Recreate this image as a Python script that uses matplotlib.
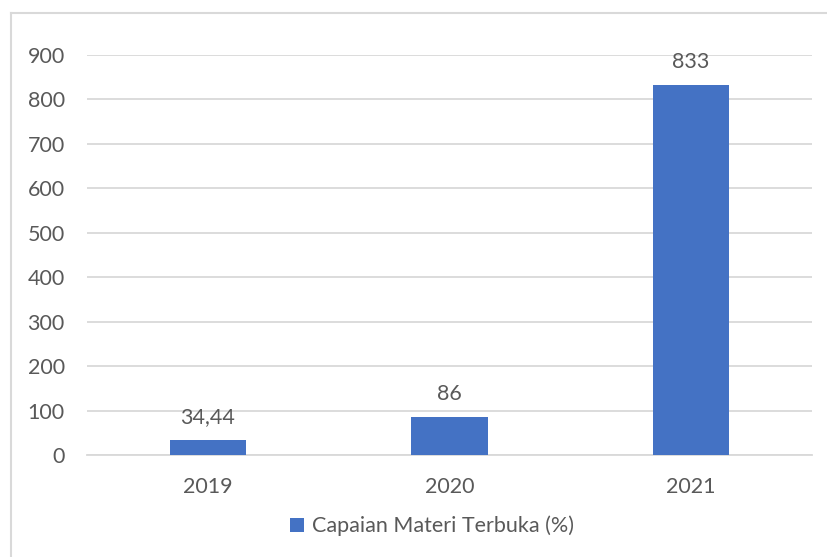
import matplotlib
matplotlib.use("Agg")
import matplotlib.pyplot as plt
from matplotlib.lines import Line2D
from matplotlib.patches import Patch

categories = ["2019", "2020", "2021"]
values = [34.44, 86, 833]
value_labels = ["34,44", "86", "833"]
yticks = [0, 100, 200, 300, 400, 500, 600, 700, 800, 900]
series_name = "Capaian Materi Terbuka (%)"

plt.rcParams['font.family'] = ['Lato', 'DejaVu Sans']
text_color = "#595959"
bar_color = "#4472C4"
grid_color = "#D9D9D9"
fs = 15.5

fig = plt.figure(figsize=(8.27, 5.57), dpi=100)
ax = fig.add_axes([87/827, 1-455/557, (812-87)/827, 400/557])

x = list(range(len(categories)))
ax.bar(x, values, width=0.315, color=bar_color, zorder=3)
ax.set_xlim(-0.5, len(categories)-0.5)
ax.set_ylim(0, 900)
ax.set_yticks(yticks)
ax.set_yticklabels([str(t) for t in yticks])
ax.set_xticks(x)
ax.set_xticklabels(categories)
ax.yaxis.grid(True, color=grid_color, linewidth=1.3, zorder=0)
ax.set_axisbelow(True)
for s in ["top", "right", "left"]:
    ax.spines[s].set_visible(False)
ax.spines["bottom"].set_color(grid_color)
ax.spines["bottom"].set_linewidth(1.3)
ax.tick_params(axis="both", length=0, labelsize=fs, colors=text_color)
ax.tick_params(axis="y", pad=16)
ax.tick_params(axis="x", pad=16)

for xi, v, lab in zip(x, values, value_labels):
    ax.annotate(lab, (xi, v), xytext=(0, 9), textcoords="offset points",
                ha="center", va="bottom", fontsize=fs, color=text_color)

fig.legend(handles=[Patch(facecolor=bar_color, label=series_name)],
           loc="center", bbox_to_anchor=(432/827, 1-526/557), frameon=False,
           fontsize=fs, labelcolor=text_color, handlelength=0.65, handleheight=0.65,
           handletextpad=0.35)

# chart border (top and left visible)
fig.add_artist(Line2D([11/827, 1], [1-13/557, 1-13/557], color="#D9D9D9", linewidth=1.5, transform=fig.transFigure))
fig.add_artist(Line2D([11/827, 11/827], [0, 1-13/557], color="#D9D9D9", linewidth=1.5, transform=fig.transFigure))

fig.savefig("out.png", dpi=100, facecolor="white")
